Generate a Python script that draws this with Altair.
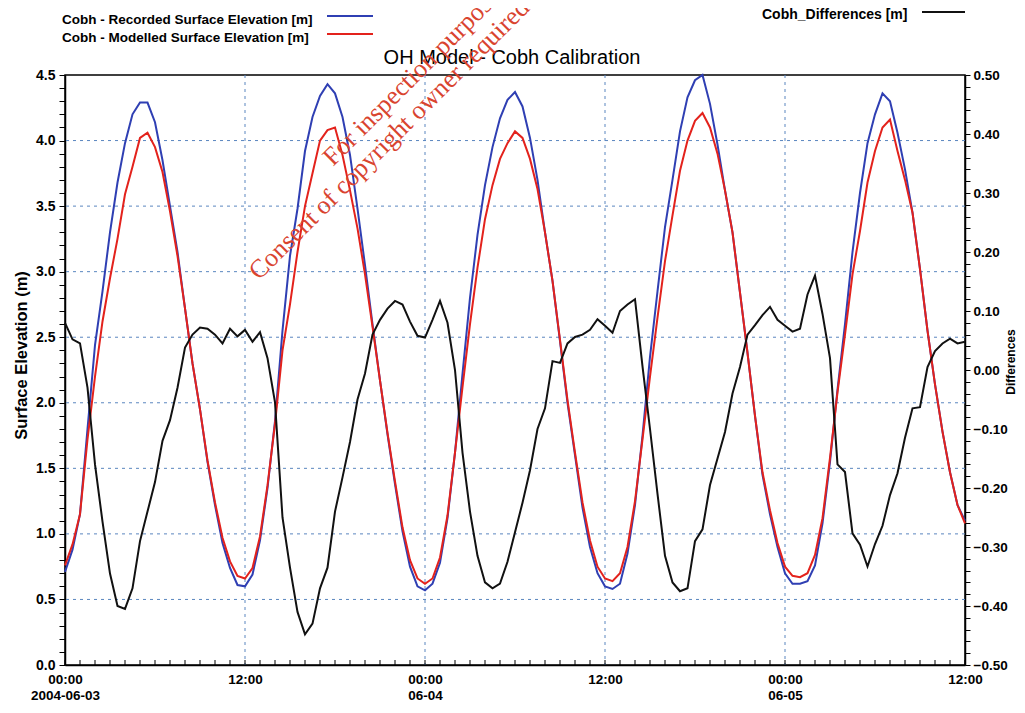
import altair as alt
import pandas as pd

# ---- data ----
hours = [i * 0.5 for i in range(121)]  # 2004-06-03 00:00 .. 2004-06-05 12:00, half-hour steps

recorded = [
    0.71, 0.88, 1.15, 1.80, 2.44, 2.85, 3.30, 3.68, 3.98, 4.20,
    4.29, 4.29, 4.14, 3.85, 3.50, 3.15, 2.72, 2.30, 1.95, 1.55,
    1.22, 0.93, 0.74, 0.61, 0.60, 0.69, 0.95, 1.35, 1.86, 2.55,
    3.12, 3.48, 3.92, 4.18, 4.34, 4.43, 4.36, 4.18, 3.89, 3.48,
    3.05, 2.60, 2.17, 1.76, 1.38, 1.02, 0.75, 0.60, 0.57, 0.62,
    0.78, 1.12, 1.62, 2.22, 2.80, 3.28, 3.66, 3.95, 4.17, 4.31,
    4.37, 4.26, 4.02, 3.70, 3.30, 2.93, 2.47, 2.00, 1.60, 1.20,
    0.90, 0.70, 0.60, 0.58, 0.62, 0.85, 1.22, 1.75, 2.35, 2.85,
    3.34, 3.70, 4.07, 4.33, 4.46, 4.50, 4.28, 3.97, 3.62, 3.30,
    2.84, 2.38, 1.90, 1.45, 1.15, 0.90, 0.70, 0.62, 0.62, 0.64,
    0.76, 1.08, 1.55, 2.10, 2.60, 3.15, 3.60, 3.98, 4.20, 4.36,
    4.30, 4.06, 3.78, 3.45, 3.02, 2.55, 2.14, 1.78, 1.47, 1.22,
    1.10,
]

modelled = [
    0.76, 0.92, 1.15, 1.72, 2.20, 2.62, 2.95, 3.25, 3.59, 3.80,
    4.02, 4.06, 3.95, 3.76, 3.46, 3.12, 2.72, 2.30, 1.95, 1.56,
    1.24, 0.97, 0.79, 0.68, 0.66, 0.74, 0.98, 1.37, 1.84, 2.40,
    2.75, 3.15, 3.50, 3.75, 4.00, 4.08, 4.10, 3.89, 3.62, 3.33,
    2.98, 2.58, 2.17, 1.77, 1.40, 1.05, 0.80, 0.66, 0.62, 0.66,
    0.82, 1.14, 1.62, 2.12, 2.60, 3.03, 3.40, 3.66, 3.86, 3.98,
    4.07, 4.02, 3.86, 3.63, 3.30, 2.93, 2.48, 2.02, 1.62, 1.24,
    0.95, 0.75, 0.66, 0.64, 0.70, 0.90, 1.25, 1.72, 2.20, 2.65,
    3.08, 3.43, 3.77, 4.00, 4.15, 4.21, 4.10, 3.90, 3.62, 3.30,
    2.84, 2.38, 1.90, 1.47, 1.18, 0.93, 0.75, 0.68, 0.67, 0.70,
    0.84, 1.12, 1.58, 2.08, 2.52, 2.98, 3.31, 3.68, 3.92, 4.10,
    4.16, 3.92, 3.70, 3.45, 3.02, 2.55, 2.14, 1.78, 1.47, 1.22,
    1.08,
]

differences = [
    0.080, 0.052, 0.045, -0.030, -0.160, -0.257, -0.345, -0.400, -0.405, -0.370,
    -0.290, -0.240, -0.190, -0.120, -0.085, -0.030, 0.038, 0.060, 0.072, 0.070,
    0.060, 0.045, 0.070, 0.057, 0.068, 0.048, 0.064, 0.020, -0.055, -0.250,
    -0.335, -0.410, -0.448, -0.430, -0.370, -0.335, -0.240, -0.182, -0.122, -0.050,
    -0.006, 0.060, 0.085, 0.104, 0.117, 0.111, 0.082, 0.058, 0.055, 0.085,
    0.117, 0.080, 0.000, -0.140, -0.240, -0.315, -0.360, -0.370, -0.362, -0.325,
    -0.275, -0.225, -0.170, -0.100, -0.065, 0.015, 0.012, 0.045, 0.056, 0.060,
    0.068, 0.086, 0.075, 0.063, 0.100, 0.111, 0.120, 0.006, -0.100, -0.210,
    -0.315, -0.360, -0.375, -0.370, -0.290, -0.270, -0.195, -0.150, -0.105, -0.040,
    0.005, 0.060, 0.076, 0.093, 0.107, 0.085, 0.075, 0.065, 0.070, 0.128,
    0.160, 0.095, 0.020, -0.160, -0.173, -0.277, -0.296, -0.333, -0.295, -0.264,
    -0.212, -0.175, -0.115, -0.065, -0.063, 0.005, 0.032, 0.045, 0.053, 0.045,
    0.048,
]

grid_levels = [0.5, 1.0, 1.5, 2.0, 2.5, 3.0, 3.5, 4.0]
grid_hours = [12, 24, 36, 48]
tick_hours = list(range(61))
x_tick_values = list(range(61))
left_tick_values = [round(i * 0.1, 1) for i in range(46)]
right_tick_values = [round(-0.5 + i * 0.02, 2) for i in range(51)]

df = pd.DataFrame({"hour": hours, "rec": recorded, "mod": modelled, "diff": differences})
grid_df = pd.DataFrame({"g": grid_levels})
vgrid_df = pd.DataFrame({"v": grid_hours})
ticks_df = pd.DataFrame({"h": tick_hours})
one = pd.DataFrame({"a": [0]})

W, H = 900, 590
FONT = "Liberation Sans"
BLUE = "#2f3fb3"
RED = "#e3221c"
BLACK = "#111111"
GRID = "#5a86bf"

xscale = alt.Scale(domain=[0, 60], nice=False, zero=False)
yscale = alt.Scale(domain=[0, 4.5], nice=False, zero=False)
dscale = alt.Scale(domain=[-0.5, 0.5], nice=False, zero=False)

x_axis = alt.Axis(
    values=x_tick_values,
    labelExpr="datum.value == 0 ? ['00:00', '2004-06-03'] : datum.value == 24 ? ['00:00', '06-04'] : "
              "datum.value == 48 ? ['00:00', '06-05'] : (datum.value % 12 == 0 ? '12:00' : '')",
    labelFont=FONT, labelFontSize=13.5, labelFontWeight="bold", labelColor="black",
    labelOverlap=False, labelFlush=False, labelPadding=7, labelLineHeight=16,
    ticks=False, grid=False, domainColor="black", domainWidth=1.5, title=None,
)

left_axis = alt.Axis(
    values=left_tick_values,
    labelExpr="abs(datum.value * 2 - round(datum.value * 2)) < 0.001 ? format(datum.value, '.1f') : ''",
    labelFont=FONT, labelFontSize=14, labelFontWeight="bold", labelColor="black",
    labelOverlap=False, labelFlush=False, labelPadding=4,
    tickSize=6, tickColor="black", domainColor="black", domainWidth=1.5, grid=False,
    title="Surface Elevation (m)", titleFont=FONT, titleFontSize=16.5, titleFontWeight="bold",
    titleColor="black", titlePadding=6, titleY=280,
)

right_axis = alt.Axis(
    orient="right",
    values=right_tick_values,
    labelExpr="abs(datum.value * 10 - round(datum.value * 10)) < 0.0001 ? format(datum.value, '.2f') : ''",
    labelFont=FONT, labelFontSize=13.5, labelFontWeight="bold", labelColor="black",
    labelOverlap=False, labelFlush=False, labelPadding=3,
    tickSize=5, tickColor="black", domainColor="black", domainWidth=1.5, grid=False,
    title=None,
)

X = alt.X("hour:Q", scale=xscale, axis=x_axis)

hgrid = alt.Chart(grid_df).mark_rule(color=GRID, strokeDash=[3, 4], strokeWidth=1).encode(
    y=alt.Y("g:Q", scale=yscale, axis=left_axis)
)
vgrid = alt.Chart(vgrid_df).mark_rule(color=GRID, strokeDash=[3, 4], strokeWidth=1).encode(
    x=alt.X("v:Q", scale=xscale, axis=x_axis)
)
xticks = alt.Chart(ticks_df).mark_rule(color="black", strokeWidth=1).encode(
    x=alt.X("h:Q", scale=xscale, axis=x_axis), y=alt.value(H), y2=alt.value(H - 5)
)

blue = alt.Chart(df).mark_line(color=BLUE, strokeWidth=2).encode(
    x=X, y=alt.Y("rec:Q", scale=yscale, axis=left_axis)
)
red = alt.Chart(df).mark_line(color=RED, strokeWidth=2).encode(
    x=X, y=alt.Y("mod:Q", scale=yscale, axis=left_axis)
)

# legend, titles and watermark
def txt(s, x, y, size=11, weight="bold", align="left", font=FONT, color="black", angle=0,
        baseline="middle"):
    kw = dict(align=align, baseline=baseline, font=font, fontSize=size, fontWeight=weight, color=color)
    if angle:
        kw["angle"] = angle
    return alt.Chart(one).mark_text(**kw).encode(x=alt.value(x), y=alt.value(y), text=alt.value(s))

def seg(x1, x2, y, color):
    return alt.Chart(one).mark_rule(color=color, strokeWidth=2).encode(
        x=alt.value(x1), x2=alt.value(x2), y=alt.value(y)
    )

decor = [
    txt("Cobh - Recorded Surface Elevation [m]", -3, -55, size=13.5),
    txt("Cobh - Modelled Surface Elevation  [m]", -3, -37, size=13.5),
    seg(262, 308, -59, BLUE),
    seg(262, 308, -41, RED),
    txt("Cobh_Differences [m]", 697, -60, size=14),
    seg(857, 900, -63, BLACK),
    txt("OH Model - Cobh Calibration", 447, -17, size=20, weight="normal", align="center"),
    txt("Differences", 946, 287, size=12, align="center", angle=270),
    txt("For inspection purposes only.", 268, 92, size=26, weight="normal",
        font="Liberation Serif", color="#d9442f", angle=315, baseline="alphabetic"),
    txt("Consent of copyright owner required", 194, 206, size=26, weight="normal",
        font="Liberation Serif", color="#d9442f", angle=315, baseline="alphabetic"),
]

left = alt.layer(hgrid, vgrid, xticks, blue, red, *decor)

black = alt.Chart(df).mark_line(color=BLACK, strokeWidth=2).encode(
    x=X, y=alt.Y("diff:Q", scale=dscale, axis=right_axis)
)

chart = (
    alt.layer(left, black)
    .resolve_scale(y="independent")
    .properties(
        width=W, height=H,
        autosize=alt.AutoSizeParams(type="none"),
        padding={"left": 57, "top": 67, "right": 52, "bottom": 40},
        background="white",
    )
    .configure_view(stroke="black", strokeWidth=1.5)
)

chart.save("out.html", embed_options={"renderer": "svg", "actions": False})
